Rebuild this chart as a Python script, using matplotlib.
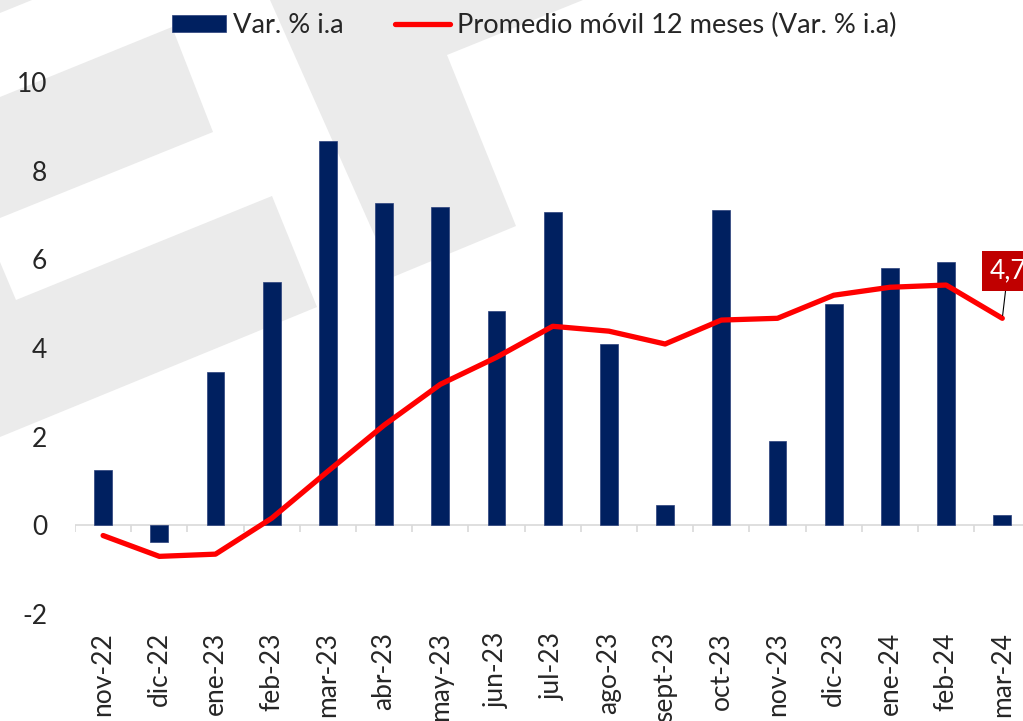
import matplotlib
matplotlib.use("Agg")
import matplotlib.pyplot as plt
from matplotlib.patches import Polygon
import numpy as np

# ---- data ----
categories = ["nov-22", "dic-22", "ene-23", "feb-23", "mar-23", "abr-23", "may-23",
              "jun-23", "jul-23", "ago-23", "sept-23", "oct-23", "nov-23", "dic-23",
              "ene-24", "feb-24", "mar-24"]
var_ia = [1.24, -0.38, 3.45, 5.50, 8.67, 7.27, 7.18, 4.83, 7.07, 4.09, 0.45, 7.11,
          1.90, 4.99, 5.80, 5.94, 0.23]
prom_movil = [-0.23, -0.70, -0.65, 0.16, 1.22, 2.26, 3.18, 3.79, 4.49, 4.38, 4.09,
              4.63, 4.67, 5.19, 5.37, 5.42, 4.67]
last_label = "4,7"
y_ticks = [-2, 0, 2, 4, 6, 8, 10]
legend_labels = ["Var. % i.a", "Promedio móvil 12 meses (Var. % i.a)"]

plt.rcParams['font.family'] = ['Lato', 'DejaVu Sans']
W, H = 1023, 721
fig = plt.figure(figsize=(W / 100, H / 100), dpi=100)

# ---- background watermark ----
bg = fig.add_axes([0, 0, 1, 1], zorder=0)
bg.set_xlim(0, W)
bg.set_ylim(H, 0)
bg.axis('off')
gray = '#EBEBEB'
shapes = [
    [(0, 0), (32, 0), (0, 13)],
    [(0, 97), (172, 27), (213, 132), (0, 218)],
    [(0, 262), (16, 300), (272, 196), (317, 307), (0, 437)],
    [(270, 0), (393, 277), (516, 226), (447, 55), (583, 0)],
]
for s in shapes:
    bg.add_patch(Polygon(s, closed=True, fc=gray, ec='none'))

# ---- main axes ----
left = 75 / W
width = (17 * 56.2) / W
bottom = (H - 614) / H
height = (614 - 82) / H
ax = fig.add_axes([left, bottom, width, height], zorder=1)
ax.set_facecolor('none')

x = np.arange(len(categories))
bars = ax.bar(x, var_ia, width=0.32, color='#002060', edgecolor='#2A3F7A', linewidth=0.5,
              zorder=2, label=legend_labels[0])
line, = ax.plot(x, prom_movil, color='#FF0000', lw=3.8, solid_joinstyle='round',
                solid_capstyle='round', zorder=3, label=legend_labels[1])

ax.set_xlim(-0.5, len(categories) - 0.5)
ax.set_ylim(-2, 10)
for sp in ax.spines.values():
    sp.set_visible(False)

# zero line with boundary ticks
ax.axhline(0, color='#D9D9D9', lw=1.2, zorder=1)
bounds = np.arange(len(categories) + 1) - 0.5
ax.vlines(bounds, -0.14, 0, color='#D9D9D9', lw=1.2, zorder=1)

ax.set_xticks(x)
ax.set_xticklabels(categories, rotation=90, fontsize=19, color='#262626')
ax.set_yticks(y_ticks)
ax.set_yticklabels([str(t) for t in y_ticks], fontsize=19, color='#262626')
ax.tick_params(axis='x', length=0, pad=13)
ax.tick_params(axis='y', length=0, pad=20)

# data label of last point
ax.annotate(last_label, xy=(x[-1], prom_movil[-1]), xytext=(4, 34),
            textcoords='offset points', ha='center', va='center',
            fontsize=19, color='white',
            bbox=dict(boxstyle='square,pad=0.28', fc='#C00000', ec='none'),
            arrowprops=dict(arrowstyle='-', color='#000000', lw=0.8,
                            shrinkA=0, shrinkB=2),
            annotation_clip=False, zorder=5)

# legend (bars first)
fig.legend([bars, line], legend_labels, loc='center', bbox_to_anchor=(0.522, 0.965), ncol=2,
           frameon=False, fontsize=19.6, handlelength=2.0, handleheight=0.6,
           handletextpad=0.25, columnspacing=1.9, labelcolor='#262626')

fig.savefig('out.png', dpi=100)
